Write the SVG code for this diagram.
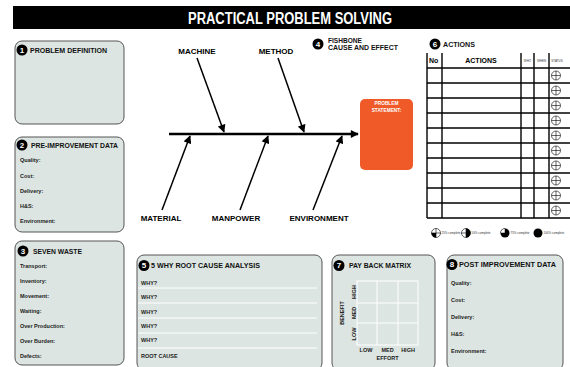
<svg xmlns="http://www.w3.org/2000/svg" width="570" height="367" viewBox="0 0 570 367">
<defs>
<style>
.panel{fill:#dce5e1;stroke:#555;stroke-width:1}
.numt{fill:#fff;font:bold 8px "Liberation Sans",Arial,sans-serif;text-anchor:middle}
.head{font-family:"Liberation Sans",Arial,sans-serif;font-size:7px;font-weight:bold;fill:#111}
.lbl{font:bold 5.5px "Liberation Sans",Arial,sans-serif;fill:#222}
.bone{stroke:#000;stroke-width:1.5;fill:none}
.spine{stroke:#000;stroke-width:2.4}
.cat{font:bold 8px "Liberation Sans",Arial,sans-serif;fill:#000;text-anchor:middle}
.tl{stroke:#000;stroke-width:1.4}
.why{stroke:#fff;stroke-width:1}
.grid{stroke:#fff;stroke-width:1;fill:none}
.tiny{font:3px "Liberation Sans",Arial,sans-serif;fill:#333}
.th{font:bold 7px "Liberation Sans",Arial,sans-serif;fill:#000}
.ax{font:bold 5.5px "Liberation Sans",Arial,sans-serif;fill:#222;text-anchor:middle}
</style>
<marker id="ah" viewBox="0 0 10 10" refX="9" refY="5" markerWidth="9" markerHeight="8" markerUnits="userSpaceOnUse" orient="auto"><path d="M0,0 L10,5 L0,10 z" fill="#000"/></marker>
<g id="stat"><circle r="4.5" fill="#fff" stroke="#000" stroke-width="0.6"/><path d="M-4.5,0H4.5M0,-4.5V4.5" stroke="#000" stroke-width="0.6"/></g>
</defs>

<g id="title">
<rect x="13" y="6" width="557" height="23" fill="#000"/>
<text x="290" y="23.5" text-anchor="middle" font-family="Liberation Sans,Arial,sans-serif" font-weight="bold" font-size="16" fill="#fff" textLength="204" lengthAdjust="spacingAndGlyphs">PRACTICAL PROBLEM SOLVING</text>
</g>

<g id="problem-definition">
<rect class="panel" x="15" y="41" width="109" height="83" rx="7"/>
<circle cx="22" cy="50" r="5.5"/><text class="numt" x="22" y="52.8">1</text>
<text class="head" x="30" y="52.5" font-size="6.5" textLength="77" lengthAdjust="spacingAndGlyphs">PROBLEM DEFINITION</text>
</g>

<g id="pre-improvement">
<rect class="panel" x="15" y="137" width="109" height="95" rx="7"/>
<circle cx="22" cy="145" r="5.5"/><text class="numt" x="22" y="147.8">2</text>
<text class="head" x="31" y="147.5" textLength="87" lengthAdjust="spacingAndGlyphs">PRE-IMPROVEMENT DATA</text>
<text class="lbl" x="20" y="162">Quality:</text>
<text class="lbl" x="20" y="177.5">Cost:</text>
<text class="lbl" x="20" y="193">Delivery:</text>
<text class="lbl" x="20" y="208">H&amp;S:</text>
<text class="lbl" x="20" y="223">Environment:</text>
</g>

<g id="seven-waste">
<rect class="panel" x="15" y="241" width="109" height="124" rx="7"/>
<circle cx="23" cy="251" r="5.5"/><text class="numt" x="23" y="253.8">3</text>
<text class="head" x="33" y="253.5" textLength="49" lengthAdjust="spacingAndGlyphs">SEVEN WASTE</text>
<text class="lbl" x="20" y="268">Transport:</text>
<text class="lbl" x="20" y="283">Inventory:</text>
<text class="lbl" x="20" y="298">Movement:</text>
<text class="lbl" x="20" y="313">Waiting:</text>
<text class="lbl" x="20" y="328">Over Production:</text>
<text class="lbl" x="20" y="343">Over Burden:</text>
<text class="lbl" x="20" y="358">Defects:</text>
</g>

<g id="fishbone-title">
<circle cx="318" cy="44" r="5.5"/><text class="numt" x="318" y="46.8">4</text>
<text class="head" x="328" y="43" font-size="6" textLength="34" lengthAdjust="spacingAndGlyphs">FISHBONE</text>
<text class="head" x="328" y="50" font-size="6" textLength="70" lengthAdjust="spacingAndGlyphs">CAUSE AND EFFECT</text>
</g>

<g id="connectors">
<line class="spine" x1="169" y1="134" x2="358" y2="134" marker-end="url(#ah)"/>
<line class="bone" x1="197" y1="58" x2="224" y2="132" marker-end="url(#ah)"/>
<line class="bone" x1="278" y1="58" x2="304" y2="132" marker-end="url(#ah)"/>
<line class="bone" x1="162" y1="210" x2="190" y2="136" marker-end="url(#ah)"/>
<line class="bone" x1="240" y1="210" x2="268" y2="136" marker-end="url(#ah)"/>
<line class="bone" x1="313" y1="210" x2="342" y2="136" marker-end="url(#ah)"/>
</g>

<g id="cause-labels">
<text class="cat" x="197" y="54">MACHINE</text>
<text class="cat" x="276" y="54">METHOD</text>
<text class="cat" x="161" y="221">MATERIAL</text>
<text class="cat" x="236" y="221">MANPOWER</text>
<text class="cat" x="319" y="221">ENVIRONMENT</text>
</g>

<g id="problem-statement">
<rect x="360" y="99" width="53" height="71" rx="5" fill="#f05a28"/>
<text x="386.5" y="105" text-anchor="middle" font-family="Liberation Sans,Arial,sans-serif" font-weight="bold" font-size="4.8" fill="#fff">PROBLEM</text>
<text x="386.5" y="112" text-anchor="middle" font-family="Liberation Sans,Arial,sans-serif" font-weight="bold" font-size="4.8" fill="#fff">STATEMENT:</text>
</g>

<g id="actions">
<circle cx="435" cy="44" r="5.5"/><text class="numt" x="435" y="46.8">6</text>
<text class="head" x="443" y="46.5" font-size="6.5" textLength="32" lengthAdjust="spacingAndGlyphs">ACTIONS</text>
<g class="tl">
<line x1="427" y1="53" x2="427" y2="218"/>
<line x1="442" y1="53" x2="442" y2="218"/>
<line x1="521" y1="53" x2="521" y2="218"/>
<line x1="534" y1="53" x2="534" y2="218"/>
<line x1="549" y1="53" x2="549" y2="218"/>
<line x1="427" y1="68" x2="570" y2="68"/>
<line x1="427" y1="83" x2="570" y2="83"/>
<line x1="427" y1="98" x2="570" y2="98"/>
<line x1="427" y1="113" x2="570" y2="113"/>
<line x1="427" y1="128" x2="570" y2="128"/>
<line x1="427" y1="143" x2="570" y2="143"/>
<line x1="427" y1="158" x2="570" y2="158"/>
<line x1="427" y1="173" x2="570" y2="173"/>
<line x1="427" y1="188" x2="570" y2="188"/>
<line x1="427" y1="203" x2="570" y2="203"/>
<line x1="427" y1="218" x2="570" y2="218"/>
</g>
<text class="th" x="429" y="63">No</text>
<text class="th" x="481" y="63" text-anchor="middle">ACTIONS</text>
<text class="tiny" x="527.5" y="62" text-anchor="middle">WHO</text>
<text class="tiny" x="541.5" y="62" text-anchor="middle">WHEN</text>
<text class="tiny" x="557" y="62" text-anchor="middle">STATUS</text>
<use href="#stat" x="556" y="75.5"/>
<use href="#stat" x="556" y="90.5"/>
<use href="#stat" x="556" y="105.5"/>
<use href="#stat" x="556" y="120.5"/>
<use href="#stat" x="556" y="135.5"/>
<use href="#stat" x="556" y="150.5"/>
<use href="#stat" x="556" y="165.5"/>
<use href="#stat" x="556" y="180.5"/>
<use href="#stat" x="556" y="195.5"/>
<use href="#stat" x="556" y="210.5"/>
</g>

<g id="legend">
<use href="#stat" x="436" y="233"/>
<path d="M436,233 V237.5 A4.5,4.5 0 0 1 431.5,233 Z" fill="#000"/>
<text class="tiny" x="441.5" y="234">25% complete</text>
<use href="#stat" x="466" y="233"/>
<path d="M466,228.5 A4.5,4.5 0 0 1 466,237.5 Z" fill="#000"/>
<text class="tiny" x="471.5" y="234">50% complete</text>
<circle cx="505" cy="233" r="4.5" fill="#000"/>
<path d="M505,233 H500.5 A4.5,4.5 0 0 1 505,228.5 Z" fill="#fff" stroke="#000" stroke-width="0.5"/>
<text class="tiny" x="510.5" y="234">75% complete</text>
<circle cx="538" cy="233" r="4.5" fill="#000"/>
<text class="tiny" x="543.5" y="234">100% complete</text>
</g>

<g id="five-why">
<rect class="panel" x="137" y="255" width="185" height="115" rx="7"/>
<circle cx="144" cy="265.5" r="5.5"/><text class="numt" x="144" y="268.3">5</text>
<text class="head" x="151" y="268" textLength="109" lengthAdjust="spacingAndGlyphs">5 WHY ROOT CAUSE ANALYSIS</text>
<g class="why">
<line x1="138" y1="288" x2="317" y2="288"/>
<line x1="138" y1="303" x2="317" y2="303"/>
<line x1="138" y1="318" x2="317" y2="318"/>
<line x1="138" y1="333" x2="317" y2="333"/>
<line x1="138" y1="348" x2="317" y2="348"/>
</g>
<text class="lbl" x="141" y="284.5">WHY?</text>
<text class="lbl" x="141" y="299">WHY?</text>
<text class="lbl" x="141" y="314">WHY?</text>
<text class="lbl" x="141" y="328">WHY?</text>
<text class="lbl" x="141" y="342">WHY?</text>
<text class="lbl" x="141" y="358">ROOT CAUSE</text>
</g>

<g id="payback-matrix">
<rect class="panel" x="332" y="255" width="103" height="115" rx="7"/>
<circle cx="339" cy="265.5" r="5.5"/><text class="numt" x="339" y="268.3">7</text>
<text class="head" x="349" y="268" textLength="62" lengthAdjust="spacingAndGlyphs">PAY BACK MATRIX</text>
<g class="grid">
<rect x="357" y="281" width="61" height="64"/>
<line x1="377" y1="281" x2="377" y2="345"/>
<line x1="398" y1="281" x2="398" y2="345"/>
<line x1="357" y1="303" x2="418" y2="303"/>
<line x1="357" y1="323" x2="418" y2="323"/>
</g>
<text class="ax" transform="translate(355.5,292) rotate(-90)">HIGH</text>
<text class="ax" transform="translate(355.5,313) rotate(-90)">MED</text>
<text class="ax" transform="translate(355.5,334) rotate(-90)">LOW</text>
<text class="ax" transform="translate(344,313) rotate(-90)">BENEFIT</text>
<text class="ax" x="366" y="351.5">LOW</text>
<text class="ax" x="387.5" y="351.5">MED</text>
<text class="ax" x="408" y="351.5">HIGH</text>
<text class="ax" x="387.5" y="360">EFFORT</text>
</g>

<g id="post-improvement">
<rect class="panel" x="447" y="255" width="116" height="115" rx="7"/>
<circle cx="452" cy="264.5" r="5.5"/><text class="numt" x="452" y="267.3">8</text>
<text class="head" x="459" y="267" textLength="97" lengthAdjust="spacingAndGlyphs">POST IMPROVEMENT DATA</text>
<text class="lbl" x="451" y="285">Quality:</text>
<text class="lbl" x="451" y="302">Cost:</text>
<text class="lbl" x="451" y="319">Delivery:</text>
<text class="lbl" x="451" y="336">H&amp;S:</text>
<text class="lbl" x="451" y="353">Environment:</text>
</g>
</svg>
